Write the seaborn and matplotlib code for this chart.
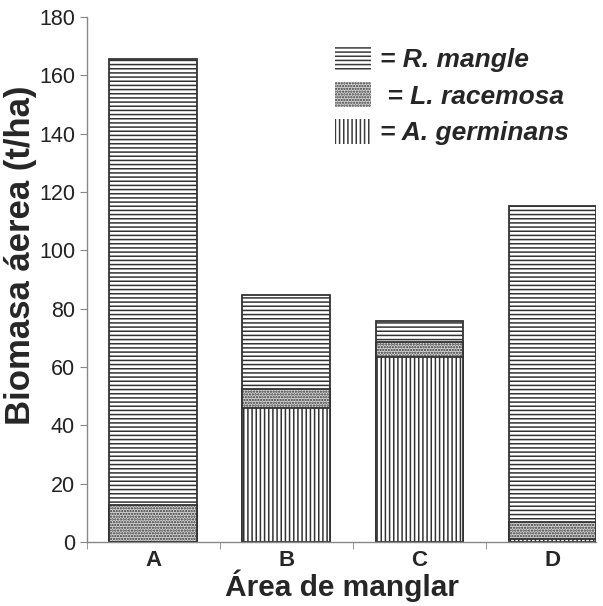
import matplotlib
matplotlib.use("Agg")
import matplotlib.pyplot as plt
from matplotlib.patches import Patch
import numpy as np
import pandas as pd
import seaborn as sns

areas = ["A", "B", "C", "D"]
a_germinans = [0.0, 46.0, 63.4, 1.0]
l_racemosa = [12.8, 6.5, 5.2, 6.0]
r_mangle = [152.8, 32.3, 7.0, 108.2]

sns.set_style("ticks")
plt.rcParams["font.family"] = ["Liberation Sans", "DejaVu Sans"]
plt.rcParams["hatch.linewidth"] = 1.1
plt.rcParams["hatch.color"] = "#3a3a3a"

df = pd.DataFrame({"area": areas, "ag": a_germinans, "lr": l_racemosa, "rm": r_mangle})
df["top_lr"] = df["ag"] + df["lr"]
df["top_rm"] = df["top_lr"] + df["rm"]

fig = plt.figure(figsize=(6.03, 6.06), dpi=100)
ax = fig.add_axes([0.144, 0.1056, 0.845, 0.8664])

# draw cumulative totals from the tallest down so each layer covers the one behind it
layers = [("top_rm", "white", "----"), ("top_lr", "#d4d4d4", "......"), ("ag", "white", "||||")]
for col, fc, hatch in layers:
    n_before = len(ax.patches)
    sns.barplot(data=df, x="area", y=col, color=fc, width=0.66, ax=ax,
                edgecolor="#333333", linewidth=1.3, errorbar=None)
    for p in ax.patches[n_before:]:
        p.set_hatch(hatch)
        p.set_facecolor(fc)

ax.set_xlim(-0.5, 3.33)
ax.set_ylim(0, 180)
ax.set_yticks(np.arange(0, 181, 20))
ax.set_xticks([0, 1, 2, 3])
ax.set_xticks([-0.5, 0.5, 1.5, 2.5], minor=True)
ax.tick_params(axis="x", which="major", length=0, labelsize=16, pad=6)
ax.tick_params(axis="x", which="minor", length=5, color="#888888")
ax.tick_params(axis="y", length=5, color="#888888", labelsize=15.5, labelcolor="#222222")
for lab in ax.get_xticklabels():
    lab.set_fontweight("bold")
for s in ["top", "right"]:
    ax.spines[s].set_visible(False)
for s in ["left", "bottom"]:
    ax.spines[s].set_color("#888888")
    ax.spines[s].set_linewidth(1.0)

ax.set_xlabel("Área de manglar", fontsize=21.5, fontweight="bold", labelpad=-1)
ax.set_ylabel("Biomasa áerea (t/ha)", fontsize=25, fontweight="bold")
ax.yaxis.set_label_coords(-0.098, 0.547)

handles = [
    Patch(facecolor="white", edgecolor="#3a3a3a", hatch="----", linewidth=0),
    Patch(facecolor="#d4d4d4", edgecolor="#3a3a3a", hatch="......", linewidth=0),
    Patch(facecolor="white", edgecolor="#3a3a3a", hatch="||||", linewidth=0),
]
labels = ["= R. mangle", " = L. racemosa", "= A. germinans"]
ax.legend(handles, labels, loc="upper left", bbox_to_anchor=(0.466, 0.966), frameon=False,
          prop={"size": 19, "weight": "bold", "style": "italic"},
          handlelength=1.36, handleheight=1.1, handletextpad=0.35, labelspacing=0.38,
          borderaxespad=0)

fig.savefig("out.png", dpi=100)
